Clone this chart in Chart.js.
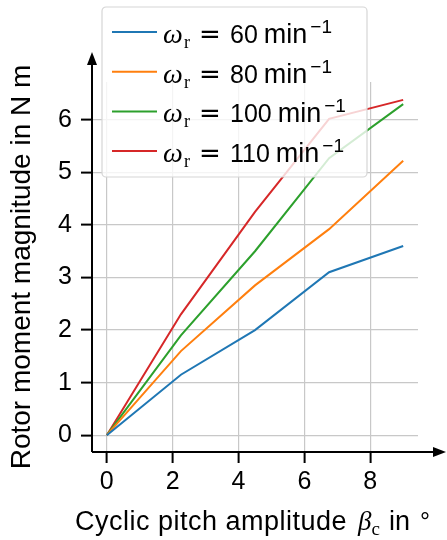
<!DOCTYPE html>
<html>
<head>
<meta charset="utf-8">
<script src="https://cdn.jsdelivr.net/npm/chart.js@4.4.0/dist/chart.umd.min.js"></script>
<style>
  html, body { margin: 0; padding: 0; background: #fff; }
  #wrap { width: 447px; height: 540px; }
</style>
</head>
<body>
<div id="wrap"><canvas id="chart" width="447" height="540"></canvas></div>
<script>
// data
const pitch = [0, 2.25, 4.5, 6.75, 9];          // cyclic pitch amplitude in deg
const speeds = [60, 80, 100, 110];              // rotor speed in 1/min
const moment60 = [0, 1.15, 2.0, 3.1, 3.6];
const moment80 = [0, 1.6, 2.85, 3.92, 5.22];
const moment100 = [0, 1.9, 3.5, 5.27, 6.3];
const moment110 = [0, 2.3, 4.25, 6.02, 6.38];
const xTicks = [0, 2, 4, 6, 8];
const yTicks = [0, 1, 2, 3, 4, 5, 6];

const colors = ['#1f77b4', '#ff7f0e', '#2ca02c', '#d62728'];
const SANS = '"Liberation Sans", Arial, sans-serif';
const SERIF = '"Liberation Serif", "DejaVu Serif", serif';

const series = [moment60, moment80, moment100, moment110];
const datasets = series.map((vals, i) => ({
    label: 'ωr = ' + speeds[i] + ' min⁻¹',
    data: pitch.map((p, j) => ({ x: p, y: vals[j] })),
    borderColor: colors[i],
    backgroundColor: colors[i],
    borderWidth: 2,
    pointRadius: 0,
    tension: 0
}));

// black axis lines with arrow heads
const arrowAxes = {
    id: 'arrowAxes',
    afterDatasetsDraw(chart) {
        const { ctx, chartArea: a } = chart;
        ctx.save();
        ctx.strokeStyle = '#000';
        ctx.fillStyle = '#000';
        ctx.lineWidth = 2;
        ctx.beginPath();
        ctx.moveTo(a.left, a.bottom);
        ctx.lineTo(434, a.bottom);
        ctx.moveTo(a.left, a.bottom);
        ctx.lineTo(a.left, 65);
        ctx.stroke();
        ctx.beginPath();
        ctx.moveTo(446, a.bottom);
        ctx.lineTo(433, a.bottom - 5);
        ctx.lineTo(433, a.bottom + 5);
        ctx.closePath();
        ctx.fill();
        ctx.beginPath();
        ctx.moveTo(a.left, 52);
        ctx.lineTo(a.left - 5, 65);
        ctx.lineTo(a.left + 5, 65);
        ctx.closePath();
        ctx.fill();
        ctx.restore();
    }
};

// legend with math labels, drawn over the lines
const mathLegend = {
    id: 'mathLegend',
    afterDraw(chart) {
        const ctx = chart.ctx;
        ctx.save();
        const bx = 102, by = 7, bw = 265, bh = 170, r = 4;
        ctx.beginPath();
        ctx.roundRect(bx, by, bw, bh, r);
        ctx.fillStyle = 'rgba(255,255,255,0.8)';
        ctx.fill();
        ctx.strokeStyle = '#d6d6d6';
        ctx.lineWidth = 1.2;
        ctx.stroke();

        ctx.textBaseline = 'alphabetic';
        ctx.textAlign = 'left';
        chart.data.datasets.forEach((ds, i) => {
            const base = 43 + i * 39.7;
            ctx.strokeStyle = ds.borderColor;
            ctx.lineWidth = 2;
            ctx.beginPath();
            ctx.moveTo(112, base - 11);
            ctx.lineTo(157, base - 11);
            ctx.stroke();

            ctx.fillStyle = '#000';
            const x0 = 163;
            ctx.font = 'italic 28px ' + SERIF;
            ctx.fillText('ω', x0, base);
            ctx.font = '18px ' + SERIF;
            ctx.fillText('r', x0 + 21, base + 5);
            ctx.font = '26px "DejaVu Sans", sans-serif';
            ctx.fillText('=', x0 + 36, base);
            let x = x0 + 67;
            const num = String(speeds[i]);
            ctx.font = '25px ' + SANS;
            ctx.fillText(num, x, base);
            x += ctx.measureText(num).width + 6;
            ctx.font = '27px ' + SANS;
            ctx.fillText('min', x, base);
            x += ctx.measureText('min').width + 3;
            ctx.font = '19px ' + SANS;
            ctx.fillText('−1', x, base - 10);
        });
        ctx.restore();
    }
};

// x axis title with subscript
const xTitle = {
    id: 'xTitle',
    afterDraw(chart) {
        const ctx = chart.ctx;
        ctx.save();
        ctx.fillStyle = '#000';
        ctx.textBaseline = 'alphabetic';
        ctx.textAlign = 'left';
        const parts = [
            { t: 'Cyclic pitch amplitude', f: '27px ' + SANS, dy: 0, ls: '0.5px', gap: 11 },
            { t: 'β', f: 'italic 27px ' + SERIF, dy: 0, ls: '0px', gap: 0 },
            { t: 'c', f: '19px ' + SERIF, dy: 5, ls: '0px', gap: 9 },
            { t: 'in', f: '27px ' + SANS, dy: 0, ls: '0px', gap: 10 },
            { t: '°', f: '25px ' + SANS, dy: 0, ls: '0px', gap: 0 }
        ];
        let x = 75;
        const base = 530;
        parts.forEach(p => {
            ctx.font = p.f;
            ctx.letterSpacing = p.ls;
            ctx.fillText(p.t, x, base + p.dy);
            x += ctx.measureText(p.t).width + p.gap;
        });
        ctx.restore();
    }
};

new Chart(document.getElementById('chart'), {
    type: 'line',
    data: { datasets },
    options: {
        responsive: false,
        animation: false,
        devicePixelRatio: 1,
        layout: { padding: { left: 0, right: 29, top: 82, bottom: 0 } },
        plugins: { legend: { display: false }, tooltip: { enabled: false } },
        scales: {
            x: {
                type: 'linear',
                min: -0.45,
                max: 9.45,
                afterBuildTicks: s => { s.ticks = xTicks.map(v => ({ value: v })); },
                afterFit: s => { s.height = 88; },
                grid: { color: '#c8c8c8', lineWidth: 1.2, tickColor: '#000', tickWidth: 2, tickLength: 11 },
                border: { display: false },
                ticks: { color: '#000', font: { family: SANS, size: 25 }, padding: 4, maxRotation: 0 },
                title: { display: false }
            },
            y: {
                type: 'linear',
                min: -0.32,
                max: 6.72,
                afterBuildTicks: s => { s.ticks = yTicks.map(v => ({ value: v })); },
                afterFit: s => { s.width = 92; },
                grid: { color: '#c8c8c8', lineWidth: 1.2, tickColor: '#000', tickWidth: 2, tickLength: 11 },
                border: { display: false },
                ticks: { color: '#000', font: { family: SANS, size: 25 }, padding: 9 },
                title: {
                    display: true,
                    text: 'Rotor moment magnitude in N m',
                    color: '#000',
                    font: { family: SANS, size: 28 },
                    padding: { top: 5, bottom: 0 }
                }
            }
        }
    },
    plugins: [arrowAxes, mathLegend, xTitle]
});
</script>
</body>
</html>
